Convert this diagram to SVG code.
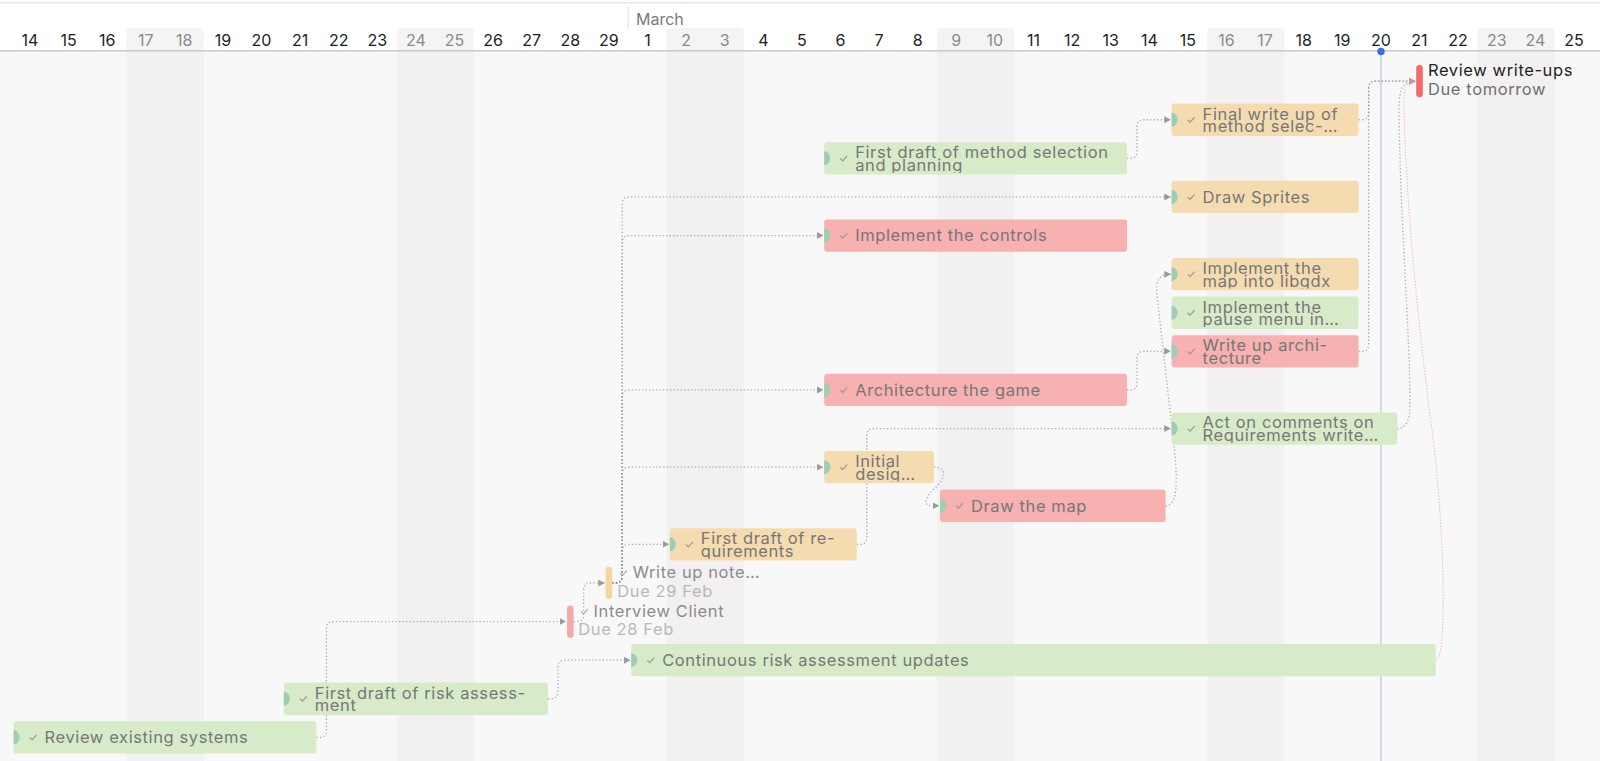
<svg xmlns="http://www.w3.org/2000/svg" width="1600" height="761" viewBox="0 0 1600 761">
<style>
.day{font-family:Inter,"Liberation Sans",sans-serif;font-size:16px;fill:#1d1d1d;text-anchor:middle}
.we{fill:#8a8a8a}
.lbl{font-family:Inter,"Liberation Sans",sans-serif;font-size:16.5px;letter-spacing:0.6px;fill:#777777}
.ms{font-family:Inter,"Liberation Sans",sans-serif;font-size:16.5px;letter-spacing:0.6px}
.g{fill:#d7ebc8}.o{fill:#f5dbb0}.r{fill:#f6b1b0}
.teal{fill:#9dcdb5}
.chk{fill:none;stroke:#9a9a9a;stroke-width:1.2}
.conn{fill:none;stroke:#8c8c8c;stroke-opacity:.7;stroke-width:1.3;stroke-dasharray:1.3 2.2;marker-end:url(#arr)}
.pink{fill:none;stroke:#f08c8c;stroke-opacity:.6;stroke-width:1;stroke-dasharray:1.5 1.5;marker-end:url(#arrp)}
.wcol{fill:#f2f0f1}
.whd{fill:#f4f4f4}
</style>
<defs>
<marker id="arr" markerWidth="7" markerHeight="8" refX="6.5" refY="4" orient="auto" markerUnits="userSpaceOnUse"><path d="M0,0.5 L6.5,4 L0,7.5 Z" fill="#9a9a9a"/></marker>
<marker id="arrp" markerWidth="7" markerHeight="8" refX="6.5" refY="4" orient="auto" markerUnits="userSpaceOnUse"><path d="M0,0.5 L6.5,4 L0,7.5 Z" fill="#d9a0a0" fill-opacity=".6"/></marker>
<clipPath id="c1"><rect x="1171.6" y="103.6" width="187" height="30.5"/></clipPath>
<clipPath id="c2"><rect x="824.2" y="142.2" width="302.8" height="30.5"/></clipPath>
<clipPath id="c3"><rect x="1171.6" y="180.8" width="187" height="26"/></clipPath>
<clipPath id="c4"><rect x="824.2" y="219.4" width="302.8" height="26"/></clipPath>
<clipPath id="c5"><rect x="1171.6" y="258" width="187" height="30.5"/></clipPath>
<clipPath id="c6"><rect x="1171.6" y="296.6" width="187" height="30.5"/></clipPath>
<clipPath id="c7"><rect x="1171.6" y="335.2" width="187" height="30.5"/></clipPath>
<clipPath id="c8"><rect x="824.2" y="373.8" width="302.8" height="26"/></clipPath>
<clipPath id="c9"><rect x="1171.6" y="412.4" width="225.6" height="30.5"/></clipPath>
<clipPath id="c10"><rect x="824.2" y="451" width="109.8" height="30.5"/></clipPath>
<clipPath id="c11"><rect x="940" y="489.6" width="225.6" height="26"/></clipPath>
<clipPath id="c12"><rect x="669.8" y="528.2" width="187" height="30.5"/></clipPath>
<clipPath id="c15"><rect x="631.2" y="644" width="804.6" height="26"/></clipPath>
<clipPath id="c16"><rect x="283.8" y="682.6" width="264.2" height="30.5"/></clipPath>
<clipPath id="c17"><rect x="13.6" y="721.2" width="302.8" height="26"/></clipPath>
</defs>

<!-- background -->
<rect x="0" y="0" width="1600" height="761" fill="#f8f8f8"/>
<g id="weekend-columns">
<rect class="wcol" x="126.4" y="51" width="77.2" height="710"/>
<rect class="wcol" x="396.6" y="51" width="77.2" height="710"/>
<rect class="wcol" x="666.8" y="51" width="77.2" height="710"/>
<rect class="wcol" x="937" y="51" width="77.2" height="710"/>
<rect class="wcol" x="1207.2" y="51" width="77.2" height="710"/>
<rect class="wcol" x="1477.4" y="51" width="77.2" height="710"/>
</g>

<!-- header -->
<g id="header">
<rect x="0" y="0" width="1600" height="51" fill="#ffffff"/>
<rect x="0" y="2" width="1600" height="1.5" fill="#e8e8e8"/>
<path class="whd" d="M126.4,50.7 V32.3 Q126.4,28.3 130.4,28.3 H199.6 Q203.6,28.3 203.6,32.3 V50.7 Z"/>
<path class="whd" d="M396.6,50.7 V32.3 Q396.6,28.3 400.6,28.3 H469.8 Q473.8,28.3 473.8,32.3 V50.7 Z"/>
<path class="whd" d="M666.8,50.7 V32.3 Q666.8,28.3 670.8,28.3 H740 Q744,28.3 744,32.3 V50.7 Z"/>
<path class="whd" d="M937,50.7 V32.3 Q937,28.3 941,28.3 H1010.2 Q1014.2,28.3 1014.2,32.3 V50.7 Z"/>
<path class="whd" d="M1207.2,50.7 V32.3 Q1207.2,28.3 1211.2,28.3 H1280.4 Q1284.4,28.3 1284.4,32.3 V50.7 Z"/>
<path class="whd" d="M1477.4,50.7 V32.3 Q1477.4,28.3 1481.4,28.3 H1550.6 Q1554.6,28.3 1554.6,32.3 V50.7 Z"/>
<rect x="0" y="50" width="1600" height="1.5" fill="#c9c9c9"/>
<line x1="628.2" y1="7" x2="628.2" y2="29" stroke="#dcdcdc" stroke-width="1"/>
<text x="636" y="25" font-family="Inter, 'Liberation Sans', sans-serif" font-size="16" fill="#7a7a7a">March</text>
<text class="day" x="29.9" y="46">14</text>
<text class="day" x="68.5" y="46">15</text>
<text class="day" x="107.1" y="46">16</text>
<text class="day we" x="145.7" y="46">17</text>
<text class="day we" x="184.3" y="46">18</text>
<text class="day" x="222.9" y="46">19</text>
<text class="day" x="261.5" y="46">20</text>
<text class="day" x="300.1" y="46">21</text>
<text class="day" x="338.7" y="46">22</text>
<text class="day" x="377.3" y="46">23</text>
<text class="day we" x="415.9" y="46">24</text>
<text class="day we" x="454.5" y="46">25</text>
<text class="day" x="493.1" y="46">26</text>
<text class="day" x="531.7" y="46">27</text>
<text class="day" x="570.3" y="46">28</text>
<text class="day" x="608.9" y="46">29</text>
<text class="day" x="647.5" y="46">1</text>
<text class="day we" x="686.1" y="46">2</text>
<text class="day we" x="724.7" y="46">3</text>
<text class="day" x="763.3" y="46">4</text>
<text class="day" x="801.9" y="46">5</text>
<text class="day" x="840.5" y="46">6</text>
<text class="day" x="879.1" y="46">7</text>
<text class="day" x="917.7" y="46">8</text>
<text class="day we" x="956.3" y="46">9</text>
<text class="day we" x="994.9" y="46">10</text>
<text class="day" x="1033.5" y="46">11</text>
<text class="day" x="1072.1" y="46">12</text>
<text class="day" x="1110.7" y="46">13</text>
<text class="day" x="1149.3" y="46">14</text>
<text class="day" x="1187.9" y="46">15</text>
<text class="day we" x="1226.5" y="46">16</text>
<text class="day we" x="1265.1" y="46">17</text>
<text class="day" x="1303.7" y="46">18</text>
<text class="day" x="1342.3" y="46">19</text>
<text class="day" x="1380.9" y="46">20</text>
<text class="day" x="1419.5" y="46">21</text>
<text class="day" x="1458.1" y="46">22</text>
<text class="day we" x="1496.7" y="46">23</text>
<text class="day we" x="1535.3" y="46">24</text>
<text class="day" x="1573.9" y="46">25</text>
</g>

<!-- today -->
<g id="today">
<rect x="1380.2" y="51" width="1.5" height="710" fill="#c8cbe8"/>
<circle cx="1381" cy="51.5" r="3.7" fill="#3a6fd8"/>
</g>

<!-- connectors -->
<g id="connectors">
<path class="conn" d="M316.4,737.35 H319.4 Q326.4,737.35 326.4,730.35 V628.55 Q326.4,621.55 333.4,621.55 H566"/>
<path class="conn" d="M548,698.75 H551 Q558,698.75 558,691.75 V667.15 Q558,660.15 565,660.15 H630.5"/>
<path class="conn" d="M573.6,621.55 H576.6 Q583.6,621.55 583.6,614.55 V589.95 Q583.6,582.95 590.6,582.95 H604.8"/>
<path class="conn" d="M612.2,582.95 H615.2 Q622.2,582.95 622.2,575.95 V551.35 Q622.2,544.35 629.2,544.35 H669"/>
<path class="conn" d="M612.2,582.95 H615.2 Q622.2,582.95 622.2,575.95 V474.15 Q622.2,467.15 629.2,467.15 H823.4"/>
<path class="conn" d="M612.2,582.95 H615.2 Q622.2,582.95 622.2,575.95 V396.95 Q622.2,389.95 629.2,389.95 H823.4"/>
<path class="conn" d="M612.2,582.95 H615.2 Q622.2,582.95 622.2,575.95 V242.55 Q622.2,235.55 629.2,235.55 H823.4"/>
<path class="conn" d="M612.2,582.95 H615.2 Q622.2,582.95 622.2,575.95 V203.95 Q622.2,196.95 629.2,196.95 H1170.8"/>
<path class="conn" d="M856.8,544.35 H859.8 Q866.8,544.35 866.8,537.35 V435.55 Q866.8,428.55 873.8,428.55 H1170.8"/>
<path class="conn" d="M934,467.15 C947,467.15 946,478 936,487 C926,496 921,505.75 932,505.75 L939.2,505.75"/>
<path class="conn" d="M1127,389.95 H1130 Q1137,389.95 1137,382.95 V358.35 Q1137,351.35 1144,351.35 H1170.8"/>
<path class="conn" d="M1165.6,505.75 C1178,505.75 1177,480 1175,455 L1157,295 C1155,279 1160,274.15 1170.8,274.15"/>
<path class="conn" d="M1127,158.35 H1130 Q1137,158.35 1137,151.35 V126.75 Q1137,119.75 1144,119.75 H1170.8"/>
<path class="conn" d="M1358.6,119.75 H1361.6 Q1368.6,119.75 1368.6,112.75 V88.15 Q1368.6,81.15 1375.6,81.15 H1415.5"/>
<path class="conn" d="M1358.6,351.35 H1361.6 Q1368.6,351.35 1368.6,344.35 V88.15 Q1368.6,81.15 1375.6,81.15 H1415.5"/>
<path class="conn" d="M1397.2,428.55 C1406,428.55 1410,420 1410,405 C1410,330 1400,220 1399,110 C1399,88 1403,81.15 1415.5,81.15"/>
<path class="pink" d="M1435.8,660.15 C1448,660.15 1444,520 1432,430 C1420,340 1405,200 1404,100 C1404,86 1407,81.15 1415.5,81.15"/>
</g>

<!-- nodes -->
<g id="n0">
<rect x="1416.2" y="65" width="6.6" height="32.3" rx="3.3" fill="#f26a6a"/>
<text class="ms" x="1428" y="76" fill="#1f1f1f">Review write-ups</text>
<text class="ms" x="1428" y="94.5" fill="#707070">Due tomorrow</text>
</g>
<g id="n1">
<rect class="o" x="1171.6" y="103.6" width="187" height="32.3" rx="3"/>
<path class="teal" d="M1171.6,112.75 A6 7 0 0 1 1171.6,126.75 Z"/>
<polyline class="chk" points="1187.6,119.75 1190.1,122.25 1194.6,117.25"/>
<text class="lbl" clip-path="url(#c1)"><tspan x="1202.6" y="119.6">Final write up of</tspan><tspan x="1202.6" y="132.3">method selec-…</tspan></text>
</g>
<g id="n2">
<rect class="g" x="824.2" y="142.2" width="302.8" height="32.3" rx="3"/>
<path class="teal" d="M824.2,151.35 A6 7 0 0 1 824.2,165.35 Z"/>
<polyline class="chk" points="840.2,158.35 842.7,160.85 847.2,155.85"/>
<text class="lbl" clip-path="url(#c2)"><tspan x="855.2" y="158.2">First draft of method selection</tspan><tspan x="855.2" y="170.9">and planning</tspan></text>
</g>
<g id="n3">
<rect class="o" x="1171.6" y="180.8" width="187" height="32.3" rx="3"/>
<path class="teal" d="M1171.6,189.95 A6 7 0 0 1 1171.6,203.95 Z"/>
<polyline class="chk" points="1187.6,196.95 1190.1,199.45 1194.6,194.45"/>
<text class="lbl" clip-path="url(#c3)" x="1202.6" y="202.8">Draw Sprites</text>
</g>
<g id="n4">
<rect class="r" x="824.2" y="219.4" width="302.8" height="32.3" rx="3"/>
<path class="teal" d="M824.2,228.55 A6 7 0 0 1 824.2,242.55 Z"/>
<polyline class="chk" points="840.2,235.55 842.7,238.05 847.2,233.05"/>
<text class="lbl" clip-path="url(#c4)" x="855.2" y="241.4">Implement the controls</text>
</g>
<g id="n5">
<rect class="o" x="1171.6" y="258" width="187" height="32.3" rx="3"/>
<path class="teal" d="M1171.6,267.15 A6 7 0 0 1 1171.6,281.15 Z"/>
<polyline class="chk" points="1187.6,274.15 1190.1,276.65 1194.6,271.65"/>
<text class="lbl" clip-path="url(#c5)"><tspan x="1202.6" y="274">Implement the</tspan><tspan x="1202.6" y="286.7">map into libgdx</tspan></text>
</g>
<g id="n6">
<rect class="g" x="1171.6" y="296.6" width="187" height="32.3" rx="3"/>
<path class="teal" d="M1171.6,305.75 A6 7 0 0 1 1171.6,319.75 Z"/>
<polyline class="chk" points="1187.6,312.75 1190.1,315.25 1194.6,310.25"/>
<text class="lbl" clip-path="url(#c6)"><tspan x="1202.6" y="312.6">Implement the</tspan><tspan x="1202.6" y="325.3">pause menu in…</tspan></text>
</g>
<g id="n7">
<rect class="r" x="1171.6" y="335.2" width="187" height="32.3" rx="3"/>
<path class="teal" d="M1171.6,344.35 A6 7 0 0 1 1171.6,358.35 Z"/>
<polyline class="chk" points="1187.6,351.35 1190.1,353.85 1194.6,348.85"/>
<text class="lbl" clip-path="url(#c7)"><tspan x="1202.6" y="351.2">Write up archi-</tspan><tspan x="1202.6" y="363.9">tecture</tspan></text>
</g>
<g id="n8">
<rect class="r" x="824.2" y="373.8" width="302.8" height="32.3" rx="3"/>
<path class="teal" d="M824.2,382.95 A6 7 0 0 1 824.2,396.95 Z"/>
<polyline class="chk" points="840.2,389.95 842.7,392.45 847.2,387.45"/>
<text class="lbl" clip-path="url(#c8)" x="855.2" y="395.8">Architecture the game</text>
</g>
<g id="n9">
<rect class="g" x="1171.6" y="412.4" width="225.6" height="32.3" rx="3"/>
<path class="teal" d="M1171.6,421.55 A6 7 0 0 1 1171.6,435.55 Z"/>
<polyline class="chk" points="1187.6,428.55 1190.1,431.05 1194.6,426.05"/>
<text class="lbl" clip-path="url(#c9)"><tspan x="1202.6" y="428.4">Act on comments on</tspan><tspan x="1202.6" y="441.1">Requirements write…</tspan></text>
</g>
<g id="n10">
<rect class="o" x="824.2" y="451" width="109.8" height="32.3" rx="3"/>
<path class="teal" d="M824.2,460.15 A6 7 0 0 1 824.2,474.15 Z"/>
<polyline class="chk" points="840.2,467.15 842.7,469.65 847.2,464.65"/>
<text class="lbl" clip-path="url(#c10)"><tspan x="855.2" y="467">Initial</tspan><tspan x="855.2" y="479.7">desig…</tspan></text>
</g>
<g id="n11">
<rect class="r" x="940" y="489.6" width="225.6" height="32.3" rx="3"/>
<path class="teal" d="M940,498.75 A6 7 0 0 1 940,512.75 Z"/>
<polyline class="chk" points="956,505.75 958.5,508.25 963,503.25"/>
<text class="lbl" clip-path="url(#c11)" x="971" y="511.6">Draw the map</text>
</g>
<g id="n12">
<rect class="o" x="669.8" y="528.2" width="187" height="32.3" rx="3"/>
<path class="teal" d="M669.8,537.35 A6 7 0 0 1 669.8,551.35 Z"/>
<polyline class="chk" points="685.8,544.35 688.3,546.85 692.8,541.85"/>
<text class="lbl" clip-path="url(#c12)"><tspan x="700.8" y="544.2">First draft of re-</tspan><tspan x="700.8" y="556.9">quirements</tspan></text>
</g>
<g id="n13">
<rect x="605.6" y="566.8" width="6.6" height="32.3" rx="3.3" fill="#f5d5a2"/>
<polyline class="chk" points="620,573 622.5,575.5 627,570.5" opacity=".7"/>
<text class="ms" x="632.7" y="578.3" fill="#8c8c8c">Write up note…</text>
<text class="ms" x="617.3" y="596.7" fill="#b8b8b8">Due 29 Feb</text>
</g>
<g id="n14">
<rect x="567" y="605.4" width="6.6" height="32.3" rx="3.3" fill="#f5a9a9"/>
<polyline class="chk" points="581,611.5 583.5,614 588,609" opacity=".7"/>
<text class="ms" x="593.5" y="617" fill="#8c8c8c">Interview Client</text>
<text class="ms" x="578.3" y="635.2" fill="#b8b8b8">Due 28 Feb</text>
</g>
<g id="n15">
<rect class="g" x="631.2" y="644" width="804.6" height="32.3" rx="3"/>
<path class="teal" d="M631.2,653.15 A6 7 0 0 1 631.2,667.15 Z"/>
<polyline class="chk" points="647.2,660.15 649.7,662.65 654.2,657.65"/>
<text class="lbl" clip-path="url(#c15)" x="662.2" y="666">Continuous risk assessment updates</text>
</g>
<g id="n16">
<rect class="g" x="283.8" y="682.6" width="264.2" height="32.3" rx="3"/>
<path class="teal" d="M283.8,691.75 A6 7 0 0 1 283.8,705.75 Z"/>
<polyline class="chk" points="299.8,698.75 302.3,701.25 306.8,696.25"/>
<text class="lbl" clip-path="url(#c16)"><tspan x="314.8" y="698.6">First draft of risk assess-</tspan><tspan x="314.8" y="711.3">ment</tspan></text>
</g>
<g id="n17">
<rect class="g" x="13.6" y="721.2" width="302.8" height="32.3" rx="3"/>
<path class="teal" d="M13.6,730.35 A6 7 0 0 1 13.6,744.35 Z"/>
<polyline class="chk" points="29.6,737.35 32.1,739.85 36.6,734.85"/>
<text class="lbl" clip-path="url(#c17)" x="44.6" y="743.2">Review existing systems</text>
</g>
</svg>
